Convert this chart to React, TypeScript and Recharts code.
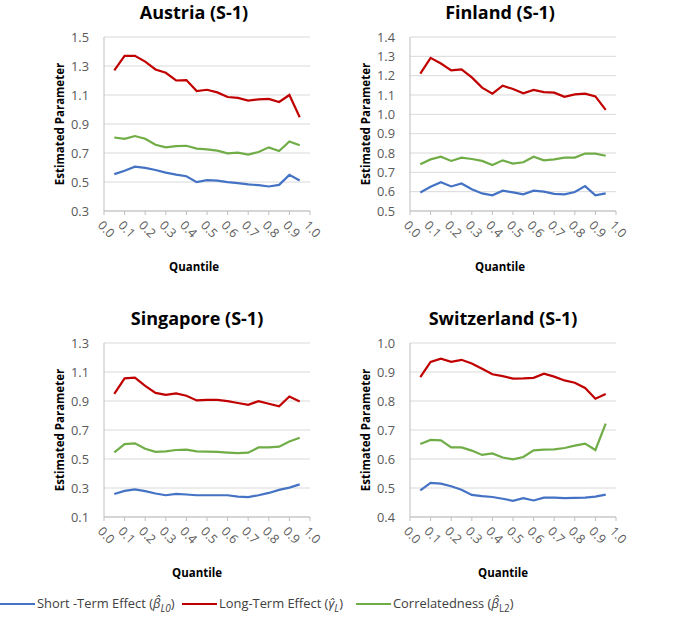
import React from 'react';
import { LineChart, Line, XAxis, YAxis, CartesianGrid } from 'recharts';

// quantile levels at which each model was estimated
const quantiles = [0.05, 0.1, 0.15, 0.2, 0.25, 0.3, 0.35, 0.4, 0.45, 0.5, 0.55, 0.6, 0.65, 0.7, 0.75, 0.8, 0.85, 0.9, 0.95];
const xTicks = [0, 0.1, 0.2, 0.3, 0.4, 0.5, 0.6, 0.7, 0.8, 0.9, 1.0];

const austriaShort = [0.554, 0.577, 0.606, 0.597, 0.583, 0.565, 0.551, 0.54, 0.499, 0.513, 0.51, 0.499, 0.492, 0.483, 0.478, 0.469, 0.48, 0.549, 0.51];
const austriaLong = [1.27, 1.37, 1.37, 1.33, 1.276, 1.253, 1.2, 1.203, 1.127, 1.136, 1.118, 1.086, 1.08, 1.061, 1.07, 1.073, 1.052, 1.1, 0.947];
const austriaCorr = [0.807, 0.798, 0.817, 0.798, 0.757, 0.739, 0.748, 0.75, 0.73, 0.725, 0.716, 0.698, 0.702, 0.689, 0.707, 0.739, 0.714, 0.78, 0.753];
const austriaTicks = [0.3, 0.5, 0.7, 0.9, 1.1, 1.3, 1.5];

const finlandShort = [0.596, 0.625, 0.649, 0.627, 0.642, 0.613, 0.591, 0.581, 0.605, 0.596, 0.586, 0.605, 0.6, 0.589, 0.586, 0.598, 0.629, 0.581, 0.591];
const finlandLong = [1.211, 1.292, 1.263, 1.227, 1.232, 1.191, 1.138, 1.107, 1.148, 1.131, 1.109, 1.126, 1.115, 1.112, 1.091, 1.103, 1.107, 1.093, 1.023];
const finlandCorr = [0.742, 0.767, 0.781, 0.759, 0.776, 0.769, 0.759, 0.738, 0.762, 0.745, 0.752, 0.781, 0.762, 0.767, 0.776, 0.776, 0.797, 0.797, 0.786];
const finlandTicks = [0.5, 0.6, 0.7, 0.8, 0.9, 1.0, 1.1, 1.2, 1.3, 1.4];

const singaporeShort = [0.259, 0.28, 0.291, 0.278, 0.262, 0.25, 0.259, 0.255, 0.25, 0.25, 0.25, 0.25, 0.241, 0.237, 0.25, 0.266, 0.287, 0.303, 0.325];
const singaporeLong = [0.949, 1.056, 1.061, 1.004, 0.956, 0.943, 0.952, 0.936, 0.904, 0.908, 0.908, 0.899, 0.886, 0.874, 0.899, 0.881, 0.863, 0.931, 0.897];
const singaporeCorr = [0.546, 0.603, 0.608, 0.571, 0.549, 0.553, 0.562, 0.565, 0.553, 0.551, 0.549, 0.544, 0.54, 0.544, 0.58, 0.58, 0.585, 0.621, 0.647];
const singaporeTicks = [0.1, 0.3, 0.5, 0.7, 0.9, 1.1, 1.3];

const swissShort = [0.492, 0.518, 0.515, 0.506, 0.494, 0.476, 0.472, 0.469, 0.463, 0.456, 0.465, 0.457, 0.467, 0.467, 0.465, 0.466, 0.467, 0.47, 0.477];
const swissLong = [0.882, 0.935, 0.946, 0.935, 0.942, 0.929, 0.911, 0.892, 0.886, 0.877, 0.878, 0.88, 0.894, 0.884, 0.871, 0.863, 0.845, 0.808, 0.824];
const swissCorr = [0.652, 0.666, 0.664, 0.64, 0.64, 0.629, 0.614, 0.619, 0.605, 0.599, 0.607, 0.63, 0.632, 0.633, 0.638, 0.646, 0.653, 0.631, 0.722];
const swissTicks = [0.4, 0.5, 0.6, 0.7, 0.8, 0.9, 1.0];

const BLUE = '#4472c4';
const RED = '#c00000';
const GREEN = '#70ad47';
const FONT = '"Open Sans", sans-serif';

function buildRows(s: number[], l: number[], c: number[]) {
  return quantiles.map((q, i) => ({ q, short: s[i], long: l[i], corr: c[i] }));
}

const XTick = (props: any) => {
  const { x, y, payload } = props;
  return (
    <g transform={`translate(${x - 4},${y + 6}) rotate(45)`}>
      <text x={0} y={0} dy="0.35em" textAnchor="start" fill="#595959" fontSize={12.5} fontFamily={FONT}>
        {Number(payload.value).toFixed(1)}
      </text>
    </g>
  );
};

type PanelProps = {
  title: string;
  left: number;
  top: number;
  titleX: number;
  ticks: number[];
  short: number[];
  long: number[];
  corr: number[];
};

function Panel({ title, left, top, titleX, ticks, short, long, corr }: PanelProps) {
  const data = buildRows(short, long, corr);
  return (
    <>
      <div style={{ position: 'absolute', left: titleX - 100, top: top - 37, width: 200, textAlign: 'center', fontFamily: FONT, fontWeight: 700, fontSize: 18, color: '#000' }}>
        {title}
      </div>
      <div style={{ position: 'absolute', left: left + 60 - 80, top: top + 87 - 8, width: 160, textAlign: 'center', transform: 'rotate(-90deg)', fontFamily: FONT, fontWeight: 700, fontSize: 11.5, color: '#000', lineHeight: '16px' }}>
        Estimated Parameter
      </div>
      <div style={{ position: 'absolute', left: titleX - 50, top: top + 222, width: 100, textAlign: 'center', fontFamily: FONT, fontWeight: 700, fontSize: 11.5, color: '#000', lineHeight: '16px' }}>
        Quantile
      </div>
      <div style={{ position: 'absolute', left, top: top - 10 }}>
        <LineChart width={340} height={263} data={data} margin={{ top: 10, right: 30, bottom: 0, left: 0 }}>
          <CartesianGrid vertical={false} stroke="#d9d9d9" />
          <XAxis
            type="number"
            dataKey="q"
            domain={[0, 1]}
            ticks={xTicks}
            height={79}
            interval={0}
            tick={<XTick />}
            tickSize={4}
            tickMargin={2}
            axisLine={{ stroke: '#bfbfbf' }}
            tickLine={{ stroke: '#bfbfbf' }}
          />
          <YAxis
            type="number"
            domain={[ticks[0], ticks[ticks.length - 1]]}
            ticks={ticks}
            interval={0}
            width={104}
            tickSize={4}
            tickMargin={11}
            tickLine={false}
            axisLine={{ stroke: '#bfbfbf' }}
            tickFormatter={(v: number) => v.toFixed(1)}
            tick={{ fill: '#595959', fontSize: 12.8, fontFamily: FONT }}
          />
          <Line type="linear" dataKey="short" stroke={BLUE} strokeWidth={2.2} dot={false} isAnimationActive={false} />
          <Line type="linear" dataKey="long" stroke={RED} strokeWidth={2.2} dot={false} isAnimationActive={false} />
          <Line type="linear" dataKey="corr" stroke={GREEN} strokeWidth={2.2} dot={false} isAnimationActive={false} />
        </LineChart>
      </div>
    </>
  );
}

const LegendItem = ({ color, children, left }: { color: string; children: React.ReactNode; left: number }) => (
  <div style={{ position: 'absolute', left, top: 594, display: 'flex', alignItems: 'center', whiteSpace: 'nowrap', fontFamily: FONT, fontSize: 12.9, color: '#404040' }}>
    <span style={{ display: 'inline-block', width: 35, height: 2, background: color, marginRight: 2 }} />
    <span>{children}</span>
  </div>
);

export default function App() {
  return (
    <div style={{ position: 'absolute', left: 0, top: 0, width: 685, height: 621, background: '#fff', overflow: 'hidden' }}>
      <Panel title="Austria (S-1)" left={0} top={37} titleX={194} ticks={austriaTicks} short={austriaShort} long={austriaLong} corr={austriaCorr} />
      <Panel title="Finland (S-1)" left={306} top={37} titleX={500} ticks={finlandTicks} short={finlandShort} long={finlandLong} corr={finlandCorr} />
      <Panel title="Singapore (S-1)" left={0} top={343} titleX={197} ticks={singaporeTicks} short={singaporeShort} long={singaporeLong} corr={singaporeCorr} />
      <Panel title="Switzerland (S-1)" left={306} top={343} titleX={503} ticks={swissTicks} short={swissShort} long={swissLong} corr={swissCorr} />
      <LegendItem color={BLUE} left={0}>
        Short -Term Effect (<i>β̂</i><sub style={{ fontSize: 10 }}><i>L0</i></sub>)
      </LegendItem>
      <LegendItem color={RED} left={182}>
        Long-Term Effect (<i>γ̂</i><sub style={{ fontSize: 10 }}><i>L</i></sub>)
      </LegendItem>
      <LegendItem color={GREEN} left={356}>
        Correlatedness (<i>β̂</i><sub style={{ fontSize: 10 }}>L2</sub>)
      </LegendItem>
    </div>
  );
}
